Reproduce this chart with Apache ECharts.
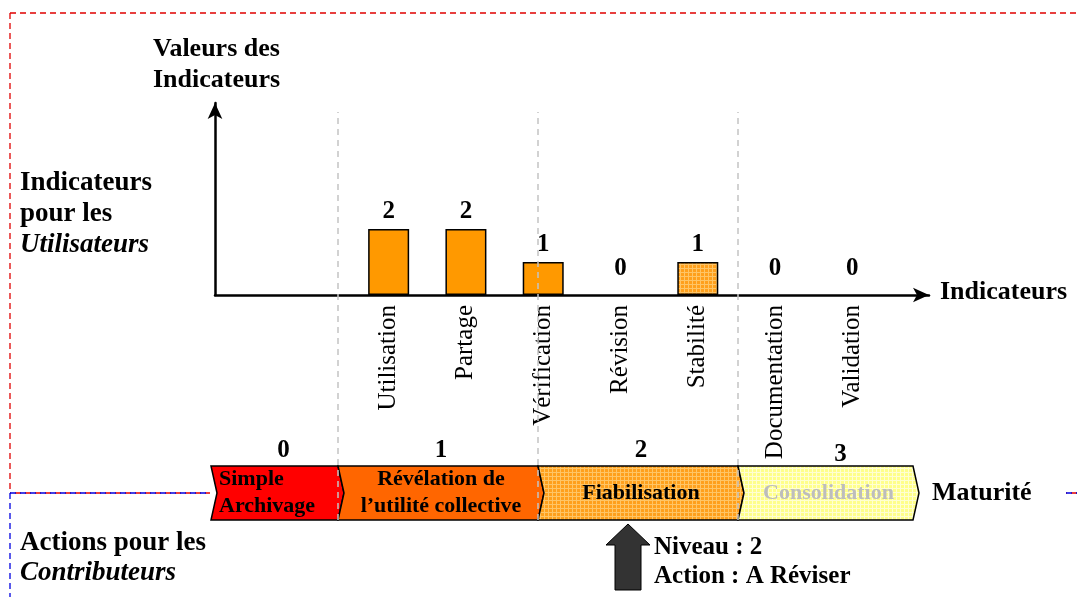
<!DOCTYPE html>
<html>
<head>
<meta charset="utf-8">
<script src="https://cdn.jsdelivr.net/npm/echarts/dist/echarts.min.js"></script>
<style>
  html, body { margin: 0; padding: 0; background: #fff; }
  #chart { width: 1077px; height: 597px; }
</style>
</head>
<body>
<div id="chart"></div>
<script>
// Indicator values, grouped by the maturity level they belong to
const indicators = ['Utilisation', 'Partage', 'Vérification', 'Révision', 'Stabilité', 'Documentation', 'Validation'];
const indicatorValues = [2, 2, 1, 0, 1, 0, 0];
const indicatorLevels = [1, 1, 1, 2, 2, 3, 3];

// Maturity scale
const levels = [0, 1, 2, 3];
const levelNames = ['Simple\nArchivage', 'Révélation de\nl\u2019utilité collective', 'Fiabilisation', 'Consolidation'];
const currentLevel = 2;
const currentAction = 'A Réviser';

const SERIF = 'Liberation Serif, Times New Roman, serif';

// Small repeating grid texture used for hatched fills
function gridPattern(base, line, step) {
  const c = document.createElement('canvas');
  c.width = step; c.height = step;
  const ctx = c.getContext('2d');
  ctx.fillStyle = base; ctx.fillRect(0, 0, step, step);
  ctx.fillStyle = line;
  ctx.fillRect(0, 0, step, 1);
  ctx.fillRect(0, 0, 1, step);
  return { image: c, repeat: 'repeat' };
}

const hatchOrange = gridPattern('#ffa01c', '#ffc566', 4);
const hatchYellow = gridPattern('#ffff8a', '#ffffd2', 4);
const levelFill = ['#ff0000', '#ff6600', hatchOrange, hatchYellow];
const levelText = ['#000', '#000', '#000', '#bdbdbd'];

const chart = echarts.init(document.getElementById('chart'), null, { renderer: 'canvas' });

// Bars of the current level get the hatched fill; empty bars draw no outline
const barData = indicatorValues.map((v, i) => {
  const style = {};
  if (indicatorLevels[i] === currentLevel) style.color = hatchOrange;
  if (v === 0) style.borderWidth = 0;
  return { value: v, itemStyle: style, label: v === 0 ? { distance: 14 } : undefined };
});

const MAT_MIN = 0.365, MAT_MAX = 3.875;

function renderLevel(params, api) {
  const i = api.value(0);
  const a = Math.max(i, MAT_MIN), b = Math.min(i + 1, MAT_MAX);
  const p0 = api.coord([a, 0]);
  const p1 = api.coord([b, 0]);
  const bottom = p0[1], top = bottom - 54, mid = (top + bottom) / 2;
  const notch = 6;
  const x0 = p0[0], x1 = p1[0];
  const children = [{
    type: 'polygon',
    shape: { points: [[x0, top], [x1, top], [x1 + notch, mid], [x1, bottom], [x0, bottom], [x0 + notch, mid]] },
    style: { fill: levelFill[i], stroke: '#000', lineWidth: 1.5 }
  }, {
    type: 'text',
    style: {
      text: levelNames[i],
      x: i === 0 ? x0 + 8 : (x0 + x1 + notch) / 2,
      y: mid,
      align: i === 0 ? 'left' : 'center',
      verticalAlign: 'middle',
      lineHeight: 27,
      fontFamily: SERIF, fontWeight: 'bold', fontSize: 22,
      fill: levelText[i]
    }
  }, {
    type: 'text',
    style: {
      text: String(levels[i]),
      x: (x0 + x1 + notch) / 2 + (i === 0 ? 6 : i === 3 ? 12 : 0),
      y: top - (i === 3 ? 11 : 15),
      align: 'center', verticalAlign: 'middle',
      fontFamily: SERIF, fontWeight: 'bold', fontSize: 25, fill: '#000'
    }
  }];
  if (i === currentLevel) {
    const cx = (x0 + x1) / 2 - 10;
    const t = bottom + 4;
    children.push({
      type: 'polygon',
      shape: { points: [[cx, t], [cx + 22, t + 21], [cx + 13, t + 21], [cx + 13, t + 66], [cx - 13, t + 66], [cx - 13, t + 21], [cx - 22, t + 21]] },
      style: { fill: '#333333', stroke: '#000', lineWidth: 1 }
    }, {
      type: 'text',
      style: {
        text: 'Niveau : ' + currentLevel + '\nAction : ' + currentAction,
        x: cx + 26, y: t + 38,
        align: 'left', verticalAlign: 'middle', lineHeight: 29,
        fontFamily: SERIF, fontWeight: 'bold', fontSize: 25, fill: '#000'
      }
    });
  }
  return { type: 'group', children };
}

function txt(text, x, y, size, italic) {
  return {
    type: 'text', x, y, z: 50,
    style: {
      text, fill: '#000', fontFamily: SERIF, fontWeight: 'bold',
      fontStyle: italic ? 'italic' : 'normal', fontSize: size,
      verticalAlign: 'middle', align: 'left'
    }
  };
}
function dash(x1, y1, x2, y2, color, offset) {
  return {
    type: 'line', z: 1, silent: true,
    shape: { x1, y1, x2, y2 },
    style: { stroke: color, lineWidth: 1.3, lineDash: [6, 4], lineDashOffset: offset || 0 }
  };
}

chart.setOption({
  animation: false,
  backgroundColor: '#ffffff',
  grid: [
    { left: 215, right: 148, top: 103, bottom: 302 },   // axis frame
    { left: 350, right: 186, top: 97, bottom: 302 },     // indicator bars
    { left: 211, right: 164, top: 112, bottom: 77 }     // maturity scale
  ],
  xAxis: [
    {
      gridIndex: 0, type: 'value', min: 0, max: 1,
      axisLine: { show: true, symbol: ['none', 'arrow'], symbolSize: [11, 16], lineStyle: { color: '#000', width: 2.5 } },
      axisTick: { show: false }, axisLabel: { show: false }, splitLine: { show: false }
    },
    {
      gridIndex: 1, type: 'category', data: indicators,
      axisLine: { show: false }, axisTick: { show: false }, splitLine: { show: false },
      axisLabel: { rotate: 90, margin: 10, fontFamily: SERIF, fontSize: 25, color: '#000', interval: 0 }
    },
    {
      gridIndex: 2, type: 'value', min: MAT_MIN, max: MAT_MAX, show: false
    }
  ],
  yAxis: [
    {
      gridIndex: 0, type: 'value', min: 0, max: 1,
      axisLine: { show: true, symbol: ['none', 'arrow'], symbolSize: [11, 16], lineStyle: { color: '#000', width: 2.5 } },
      axisTick: { show: false }, axisLabel: { show: false }, splitLine: { show: false }
    },
    { gridIndex: 1, type: 'value', min: 0, max: 6, show: false },
    { gridIndex: 2, type: 'value', min: 0, max: 1, show: false }
  ],
  series: [
    {
      // level boundaries
      type: 'line', xAxisIndex: 2, yAxisIndex: 2, data: [], z: 0,
      markLine: {
        silent: true, symbol: 'none', label: { show: false },
        lineStyle: { type: [6, 5], color: '#c4c4c4', width: 1.5 },
        data: [{ xAxis: 1 }, { xAxis: 2 }, { xAxis: 3 }]
      }
    },
    {
      type: 'bar', xAxisIndex: 1, yAxisIndex: 1, z: 3,
      data: barData, barWidth: 41,
      itemStyle: { color: '#ff9900', borderColor: '#000', borderWidth: 1.5 },
      label: {
        show: true, position: 'top', distance: 5,
        fontFamily: SERIF, fontWeight: 'bold', fontSize: 25, color: '#000'
      }
    },
    {
      type: 'custom', xAxisIndex: 2, yAxisIndex: 2, z: 4, clip: false,
      data: levels.map(l => [l]),
      renderItem: renderLevel
    }
  ],
  graphic: [
    dash(10, 13, 1077, 13, '#e00000'),
    dash(10, 13, 10, 493, '#e00000'),
    dash(10, 493, 210, 493, '#e00000', 5),
    dash(10, 493, 210, 493, '#0000e0'),
    dash(1066, 493, 1077, 493, '#e00000', 5),
    dash(1066, 493, 1077, 493, '#0000e0'),
    dash(10, 493, 10, 597, '#0000e0'),
    txt('Valeurs des', 153, 49, 26),
    txt('Indicateurs', 153, 80, 26),
    txt('Indicateurs', 20, 183, 27),
    txt('pour les', 20, 214, 27),
    txt('Utilisateurs', 20, 245, 27, true),
    txt('Indicateurs', 940, 292, 26),
    txt('Maturité', 932, 493, 26),
    txt('Actions pour les', 20, 543, 27),
    txt('Contributeurs', 20, 573, 27, true)
  ]
});
</script>
</body>
</html>
